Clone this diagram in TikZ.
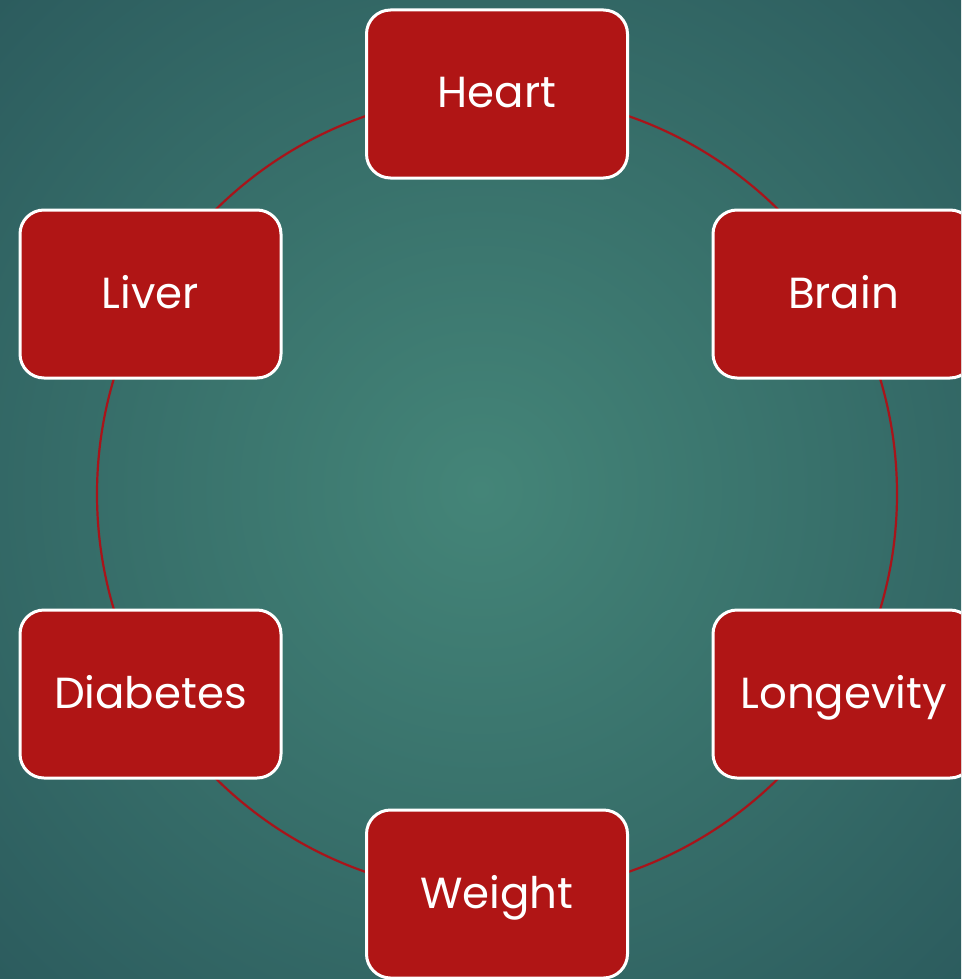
\documentclass[tikz,border=0pt]{standalone}
\usepackage{fontspec}
\setmainfont{Poppins}
\definecolor{bgin}{HTML}{448578}
\definecolor{bgout}{HTML}{2C5C5E}
\definecolor{boxred}{HTML}{B01515}
\definecolor{ringred}{HTML}{A8141A}
\tikzset{
  organ/.style={rectangle, rounded corners=24pt, fill=boxred, draw=white, line width=3pt,
    minimum width=261pt, minimum height=168pt, text=white, font=\fontsize{43.5}{50}\selectfont,
    inner sep=0pt, text height=28pt, text depth=0pt},
  ring/.style={draw=ringred, line width=2.2pt}
}
\begin{document}
\begin{tikzpicture}[x=1pt,y=-1pt]
\useasboundingbox (0,0) rectangle (961,979);
\clip (0,0) rectangle (961,979);
\shade[inner color=bgin, outer color=bgout] (-200,-200) rectangle (1161,1179);
\coordinate (c) at (497,494);
\draw[ring] (c) circle[radius=400pt];
\node[organ] (heart) at (497,94) {Heart};
\node[organ] (brain) at (843.5,294) {Brain};
\node[organ] (longevity) at (843.5,694) {Longevity};
\node[organ] (weight) at (497,894) {Weight};
\node[organ] (diabetes) at (150.5,694) {Diabetes};
\node[organ] (liver) at (150.5,294) {Liver};
\end{tikzpicture}
\end{document}
